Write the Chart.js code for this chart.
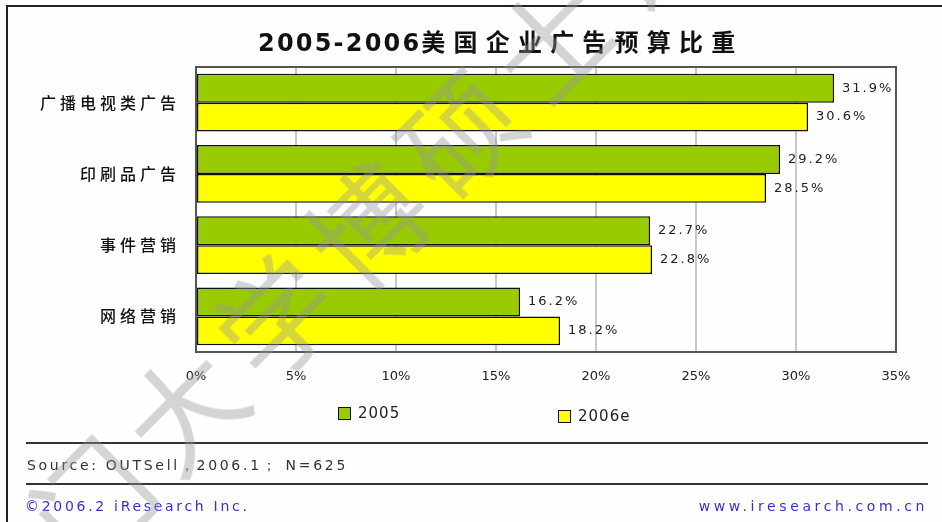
<!DOCTYPE html>
<html>
<head>
<meta charset="utf-8">
<script src="https://cdn.jsdelivr.net/npm/chart.js@4.4.1/dist/chart.umd.min.js"></script>
<style>
  html, body { margin: 0; padding: 0; background: #fff; }
  #wrap { position: relative; width: 942px; height: 522px; overflow: hidden; font-family: 'DejaVu Sans', sans-serif; background: #fefefe; }
  #frame { position: absolute; left: 6px; top: 5px; width: 960px; height: 560px; border-left: 2px solid #222; border-top: 2px solid #222; }
  #chartBox { position: absolute; left: 0; top: 0; width: 942px; height: 522px; }
  #title { position: absolute; left: 258px; top: 27px; line-height: 28px; font-weight: bold; font-size: 24px; color: #111; white-space: nowrap; }
  #title .num { font-family: 'DejaVu Sans', sans-serif; letter-spacing: 2.2px; }
  #title .cjk { font-family: 'Noto Sans CJK SC', sans-serif; letter-spacing: 8.2px; }
  .legend-item { position: absolute; display: flex; align-items: center; font-size: 15px; letter-spacing: 1px; color: #222; }
  .legend-item span.box { width: 13px; height: 13px; border: 1px solid #111; margin-right: 7px; box-sizing: border-box; }
  .rule { position: absolute; left: 26px; width: 902px; border-top: 2px solid #333; }
  .note { position: absolute; font-size: 14px; letter-spacing: 2.7px; white-space: nowrap; line-height: 16px; }
  #wm { position: absolute; left: 48px; top: 481px; font: 400 115px 'Noto Sans CJK SC', sans-serif; line-height: 115px; letter-spacing: 15px; color: rgba(150,150,150,0.4); white-space: nowrap; transform-origin: 0 50%; transform: rotate(-45deg); pointer-events: none; }
</style>
</head>
<body>
<div id="wrap">
  <div id="frame"></div>
  <div id="chartBox"><canvas id="budgetChart"></canvas></div>
  <div id="title"><span class="num">2005-2006</span><span class="cjk">美国企业广告预算比重</span></div>
  <div id="legend"></div>
  <div class="rule" style="top:442px"></div>
  <div class="note" style="left:27px; top:457px; color:#333">Source: OUTSell，2006.1；  N=625</div>
  <div class="rule" style="top:483px"></div>
  <div class="note" style="left:25px; top:498px; color:#3333cc">©2006.2 iResearch Inc.</div>
  <div class="note" style="right:14px; top:498px; color:#3333cc; letter-spacing:3.6px">www.iresearch.com.cn</div>
  <div id="wm">门大学博硕士论</div>
</div>
<script>
const categories = ['广播电视类广告', '印刷品广告', '事件营销', '网络营销'];
const values2005 = [31.9, 29.2, 22.7, 16.2];
const values2006e = [30.6, 28.5, 22.8, 18.2];
const seriesNames = ['2005', '2006e'];
const seriesColors = ['#99cc00', '#ffff00'];
const xTickLabels = ['0%', '5%', '10%', '15%', '20%', '25%', '30%', '35%'];

// y labels are moved to a layer above the datasets (ticks.z = 1) so they can get their own letter spacing
const spacingPlugin = {
  id: 'spacing',
  beforeDraw(chart) {
    chart.ctx.letterSpacing = '0px';
  },
  beforeDatasetsDraw(chart) {
    const { ctx, chartArea } = chart;
    ctx.save();
    ctx.strokeStyle = '#555';
    ctx.lineWidth = 2;
    ctx.strokeRect(chartArea.left, chartArea.top, chartArea.right - chartArea.left, chartArea.bottom - chartArea.top);
    ctx.restore();
  },
  afterDatasetsDraw(chart) {
    const ctx = chart.ctx;
    ctx.save();
    ctx.letterSpacing = '2px';
    ctx.font = '13px "DejaVu Sans"';
    ctx.fillStyle = '#222';
    ctx.textAlign = 'left';
    ctx.textBaseline = 'middle';
    chart.data.datasets.forEach((ds, i) => {
      chart.getDatasetMeta(i).data.forEach((bar, j) => {
        ctx.fillText(ds.data[j].toFixed(1) + '%', bar.x + 8, bar.y);
      });
    });
    ctx.restore();
    ctx.letterSpacing = '4px';
  },
  afterDraw(chart) {
    chart.ctx.letterSpacing = '0px';
  }
};

function renderLegend() {
  const legend = document.getElementById('legend');
  const spots = [{ left: 338, top: 404 }, { left: 558, top: 407 }];
  legend.innerHTML = seriesNames.map((name, i) => `
    <div class="legend-item" style="left:${spots[i].left}px; top:${spots[i].top}px">
      <span class="box" style="background:${seriesColors[i]}"></span>${name}
    </div>
  `).join('');
}

function renderChart() {
  const ctx = document.getElementById('budgetChart').getContext('2d');
  new Chart(ctx, {
    type: 'bar',
    data: {
      labels: categories,
      datasets: [values2005, values2006e].map((data, i) => ({
        label: seriesNames[i],
        data,
        backgroundColor: seriesColors[i],
        borderColor: '#111',
        borderWidth: 1.5,
        borderSkipped: false,
        categoryPercentage: 0.814,
        barPercentage: 1,
      }))
    },
    options: {
      indexAxis: 'y',
      responsive: true,
      maintainAspectRatio: false,
      animation: false,
      layout: { padding: { top: 67, left: 0, right: 46, bottom: 130 } },
      plugins: {
        legend: { display: false },
        title: { display: false },
        tooltip: { enabled: false },
      },
      scales: {
        x: {
          min: 0,
          max: 35,
          ticks: {
            stepSize: 5,
            padding: 17,
            color: '#222',
            font: { family: 'DejaVu Sans', size: 13 },
            callback: (v, idx) => xTickLabels[idx],
          },
          grid: { color: '#c8c8c8', lineWidth: 2, drawTicks: false },
          border: { color: '#555', width: 2 },
          afterFit: (scale) => { scale.height = 40; },
        },
        y: {
          ticks: {
            z: 1,
            padding: 16,
            color: '#111',
            font: { family: 'Noto Sans CJK SC', size: 16, weight: '500' },
          },
          grid: { display: false, drawTicks: false },
          border: { color: '#555', width: 2 },
          afterFit: (scale) => { scale.width = 196; },
        }
      }
    },
    plugins: [spacingPlugin]
  });
}

document.addEventListener('DOMContentLoaded', () => {
  renderLegend();
  renderChart();
});
</script>
</body>
</html>
